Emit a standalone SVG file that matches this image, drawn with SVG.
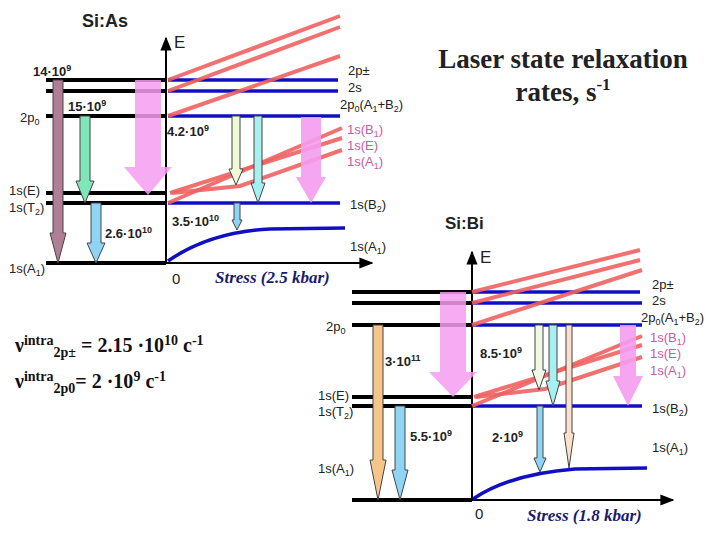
<svg xmlns="http://www.w3.org/2000/svg" width="720" height="540" viewBox="0 0 720 540">
<defs>
<marker id="ah" viewBox="0 0 10 10" refX="9" refY="5" markerWidth="7" markerHeight="7" orient="auto"><path d="M0,1 L10,5 L0,9 z" fill="#000"/></marker>
<style>
.lv{stroke:#000;stroke-width:4}
.bl{stroke:#1010c0;stroke-width:3.5;fill:none}
.rd{stroke:#f06060;stroke-width:4;fill:none;opacity:0.9}
.ax{stroke:#000;stroke-width:2;fill:none}
.ar{stroke:#444;stroke-width:1}
.t{font-family:"Liberation Sans",Arial,sans-serif;font-size:13px;fill:#222}
.p{fill:#c060a8}
.b{font-weight:bold}
.s{font-family:"Liberation Serif",serif;font-weight:bold;font-style:italic;font-size:17px;fill:#1a1a70}
.sub{font-size:9px}
.ti{font-family:"Liberation Serif",serif;font-weight:bold;font-size:27px;fill:#222}
.nu{font-family:"Liberation Serif",serif;font-weight:bold;font-size:20px;fill:#111}
</style>
</defs>
<g id="connectors">
<path class="ax" d="M166,263 V38" marker-end="url(#ah)"/>
<path class="ax" d="M166,263 H372" marker-end="url(#ah)"/>
<path class="ax" d="M472,500 V252" marker-end="url(#ah)"/>
<path class="ax" d="M472,500 H673" marker-end="url(#ah)"/>
</g>
<g id="top-levels">
<line class="lv" x1="46" y1="80" x2="166" y2="80"/>
<line class="lv" x1="46" y1="91" x2="166" y2="91"/>
<line class="lv" x1="46" y1="116" x2="166" y2="116"/>
<line class="lv" x1="46" y1="193" x2="166" y2="193"/>
<line class="lv" x1="46" y1="203" x2="166" y2="203"/>
<line class="lv" x1="46" y1="263" x2="166" y2="263"/>
<line class="bl" x1="168" y1="80" x2="338" y2="80"/>
<line class="bl" x1="168" y1="91" x2="338" y2="91"/>
<line class="bl" x1="168" y1="116" x2="340" y2="116"/>
<line class="bl" x1="168" y1="203" x2="340" y2="203"/>
<path class="bl" d="M168,261 Q210,232 270,229 L345,228"/>
<line class="rd" x1="168" y1="80" x2="340" y2="16"/>
<line class="rd" x1="168" y1="91" x2="340" y2="27"/>
<line class="rd" x1="168" y1="116" x2="340" y2="56"/>
<line class="rd" x1="168" y1="203" x2="342" y2="128"/>
<line class="rd" x1="170" y1="193" x2="342" y2="138"/>
<path class="rd" d="M172,193 Q200,190 240,186 L342,150"/>
</g>
<g id="top-arrows">
<polygon class="ar" fill="#b07f95" points="53,80 63,80 63,233 66,233 58,263 50,233 53,233"/>
<polygon class="ar" fill="#7fe6b9" points="80,116 90,116 90,181 94,181 85,203 76,181 80,181"/>
<polygon class="ar" fill="#8fd3f5" points="91,203 101,203 101,243 105,243 96,263 87,243 91,243"/>
<polygon fill="#f59cf0" opacity="0.85" points="135,80 161,80 161,167 172,167 148,195 124,167 135,167"/>
<polygon class="ar" fill="#f0f8d8" points="232,116 240,116 240,169 243,169 236,185 229,169 232,169"/>
<polygon class="ar" fill="#a8f0f0" points="254,116 262,116 262,183 265,183 258,203 251,183 254,183"/>
<polygon class="ar" fill="#8fd3f5" points="234,203 240,203 240,220 242,220 237,230 232,220 234,220"/>
<polygon fill="#f59cf0" opacity="0.9" points="301,117 321,117 321,177 326,177 311,203 296,177 301,177"/>
</g>
<g id="top-labels">
<text class="t b" x="82" y="27" style="font-size:18px">Si:As</text>
<text class="t" x="174" y="48" style="font-size:17px">E</text>
<text class="t b" x="33" y="76" fill="#7a1a40">14·10<tspan class="sub" dy="-5">9</tspan></text>
<text class="t b" x="68" y="111" fill="#30c8c0">15·10<tspan class="sub" dy="-5">9</tspan></text>
<text class="t" x="20" y="122">2p<tspan class="sub" dy="3">0</tspan></text>
<text class="t b" x="167" y="136" fill="#000">4.2·10<tspan class="sub" dy="-5">9</tspan></text>
<text class="t" x="9" y="195">1s(E)</text>
<text class="t" x="9" y="212">1s(T<tspan class="sub" dy="3">2</tspan><tspan dy="-3">)</tspan></text>
<text class="t" x="9" y="273">1s(A<tspan class="sub" dy="3">1</tspan><tspan dy="-3">)</tspan></text>
<text class="t b" x="105" y="238" fill="#2a2a70">2.6·10<tspan class="sub" dy="-5">10</tspan></text>
<text class="t b" x="172" y="226" fill="#2a2a70">3.5·10<tspan class="sub" dy="-5">10</tspan></text>
<text class="t" x="172" y="284" style="font-size:15px">0</text>
<text class="s" x="215" y="283">Stress (2.5 kbar)</text>
<text class="t" x="348" y="75">2p±</text>
<text class="t" x="348" y="92">2s</text>
<text class="t" x="340" y="109">2p<tspan class="sub" dy="3">0</tspan><tspan dy="-3">(A</tspan><tspan class="sub" dy="3">1</tspan><tspan dy="-3">+B</tspan><tspan class="sub" dy="3">2</tspan><tspan dy="-3">)</tspan></text>
<text class="t p" x="347" y="134">1s(B<tspan class="sub" dy="3">1</tspan><tspan dy="-3">)</tspan></text>
<text class="t p" x="347" y="150">1s(E)</text>
<text class="t p" x="347" y="166">1s(A<tspan class="sub" dy="3">1</tspan><tspan dy="-3">)</tspan></text>
<text class="t" x="350" y="209">1s(B<tspan class="sub" dy="3">2</tspan><tspan dy="-3">)</tspan></text>
<text class="t" x="350" y="251">1s(A<tspan class="sub" dy="3">1</tspan><tspan dy="-3">)</tspan></text>
</g>
<g id="title">
<text class="ti" x="563" y="68" text-anchor="middle">Laser state relaxation</text>
<text class="ti" x="563" y="101" text-anchor="middle">rates, s<tspan font-size="17" dy="-11">-1</tspan></text>
</g>
<g id="formulas">
<text class="nu" x="15" y="352">ν<tspan font-size="14" dy="-7">intra</tspan><tspan font-size="14" dy="12">2p±</tspan><tspan dy="-5"> = 2.15 ·10</tspan><tspan font-size="14" dy="-7">10</tspan><tspan dy="7"> c</tspan><tspan font-size="14" dy="-7">-1</tspan></text>
<text class="nu" x="15" y="388">ν<tspan font-size="14" dy="-7">intra</tspan><tspan font-size="14" dy="12">2p0</tspan><tspan dy="-5">= 2 ·10</tspan><tspan font-size="14" dy="-7">9</tspan><tspan dy="7"> c</tspan><tspan font-size="14" dy="-7">-1</tspan></text>
</g>
<g id="bottom-levels">
<line class="lv" x1="352" y1="292" x2="472" y2="292"/>
<line class="lv" x1="352" y1="303" x2="472" y2="303"/>
<line class="lv" x1="352" y1="325" x2="472" y2="325"/>
<line class="lv" x1="352" y1="397" x2="472" y2="397"/>
<line class="lv" x1="352" y1="406" x2="472" y2="406"/>
<line class="lv" x1="352" y1="500" x2="472" y2="500"/>
<line class="bl" x1="473" y1="292" x2="640" y2="292"/>
<line class="bl" x1="473" y1="303" x2="642" y2="303"/>
<line class="bl" x1="473" y1="325" x2="642" y2="325"/>
<line class="bl" x1="473" y1="406" x2="642" y2="406"/>
<path class="bl" d="M473,499 Q510,474 575,469 L647,468"/>
<line class="rd" x1="472" y1="292" x2="640" y2="250"/>
<line class="rd" x1="472" y1="303" x2="640" y2="260"/>
<line class="rd" x1="472" y1="325" x2="642" y2="270"/>
<line class="rd" x1="472" y1="406" x2="642" y2="336"/>
<line class="rd" x1="474" y1="397" x2="642" y2="345"/>
<path class="rd" d="M476,397 Q510,393 545,389 L642,357"/>
</g>
<g id="bottom-arrows">
<polygon class="ar" fill="#f7c48a" points="373,325 383,325 383,460 386,460 378,500 370,460 373,460"/>
<polygon class="ar" fill="#8fd3f5" points="395,406 405,406 405,470 408,470 400,500 392,470 395,470"/>
<polygon fill="#f59cf0" opacity="0.85" points="440,292 466,292 466,372 477,372 453,397 429,372 440,372"/>
<polygon class="ar" fill="#f0f8e8" points="535,325 543,325 543,370 546,370 539,390 532,370 535,370"/>
<polygon class="ar" fill="#a8f0f0" points="549,325 557,325 557,381 560,381 553,406 546,381 549,381"/>
<polygon class="ar" fill="#8fd3f5" points="537,406 543,406 543,458 546,458 540,472 534,458 537,458"/>
<polygon class="ar" fill="#fbe0cc" points="566,325 572,325 572,433 574,433 569,468 564,433 566,433"/>
<polygon fill="#f59cf0" opacity="0.9" points="620,325 636,325 636,376 643,376 628,406 613,376 620,376"/>
</g>
<g id="bottom-labels">
<text class="t b" x="445" y="229" style="font-size:17px">Si:Bi</text>
<text class="t" x="480" y="263" style="font-size:17px">E</text>
<text class="t" x="326" y="331">2p<tspan class="sub" dy="3">0</tspan></text>
<text class="t b" x="385" y="366" fill="#a08050">3·10<tspan class="sub" dy="-5">11</tspan></text>
<text class="t b" x="480" y="358" fill="#000">8.5·10<tspan class="sub" dy="-5">9</tspan></text>
<text class="t" x="318" y="400">1s(E)</text>
<text class="t" x="318" y="416">1s(T<tspan class="sub" dy="3">2</tspan><tspan dy="-3">)</tspan></text>
<text class="t" x="318" y="473">1s(A<tspan class="sub" dy="3">1</tspan><tspan dy="-3">)</tspan></text>
<text class="t b" x="410" y="441" fill="#2a2a70">5.5·10<tspan class="sub" dy="-5">9</tspan></text>
<text class="t b" x="492" y="442" fill="#2a2a70">2·10<tspan class="sub" dy="-5">9</tspan></text>
<text class="t" x="475" y="519" style="font-size:15px">0</text>
<text class="s" x="527" y="521">Stress (1.8 kbar)</text>
<text class="t" x="652" y="289">2p±</text>
<text class="t" x="652" y="305">2s</text>
<text class="t" x="641" y="322">2p<tspan class="sub" dy="3">0</tspan><tspan dy="-3">(A</tspan><tspan class="sub" dy="3">1</tspan><tspan dy="-3">+B</tspan><tspan class="sub" dy="3">2</tspan><tspan dy="-3">)</tspan></text>
<text class="t p" x="650" y="342">1s(B<tspan class="sub" dy="3">1</tspan><tspan dy="-3">)</tspan></text>
<text class="t p" x="650" y="358">1s(E)</text>
<text class="t p" x="650" y="375">1s(A<tspan class="sub" dy="3">1</tspan><tspan dy="-3">)</tspan></text>
<text class="t" x="652" y="413">1s(B<tspan class="sub" dy="3">2</tspan><tspan dy="-3">)</tspan></text>
<text class="t" x="652" y="452">1s(A<tspan class="sub" dy="3">1</tspan><tspan dy="-3">)</tspan></text>
</g>
</svg>
